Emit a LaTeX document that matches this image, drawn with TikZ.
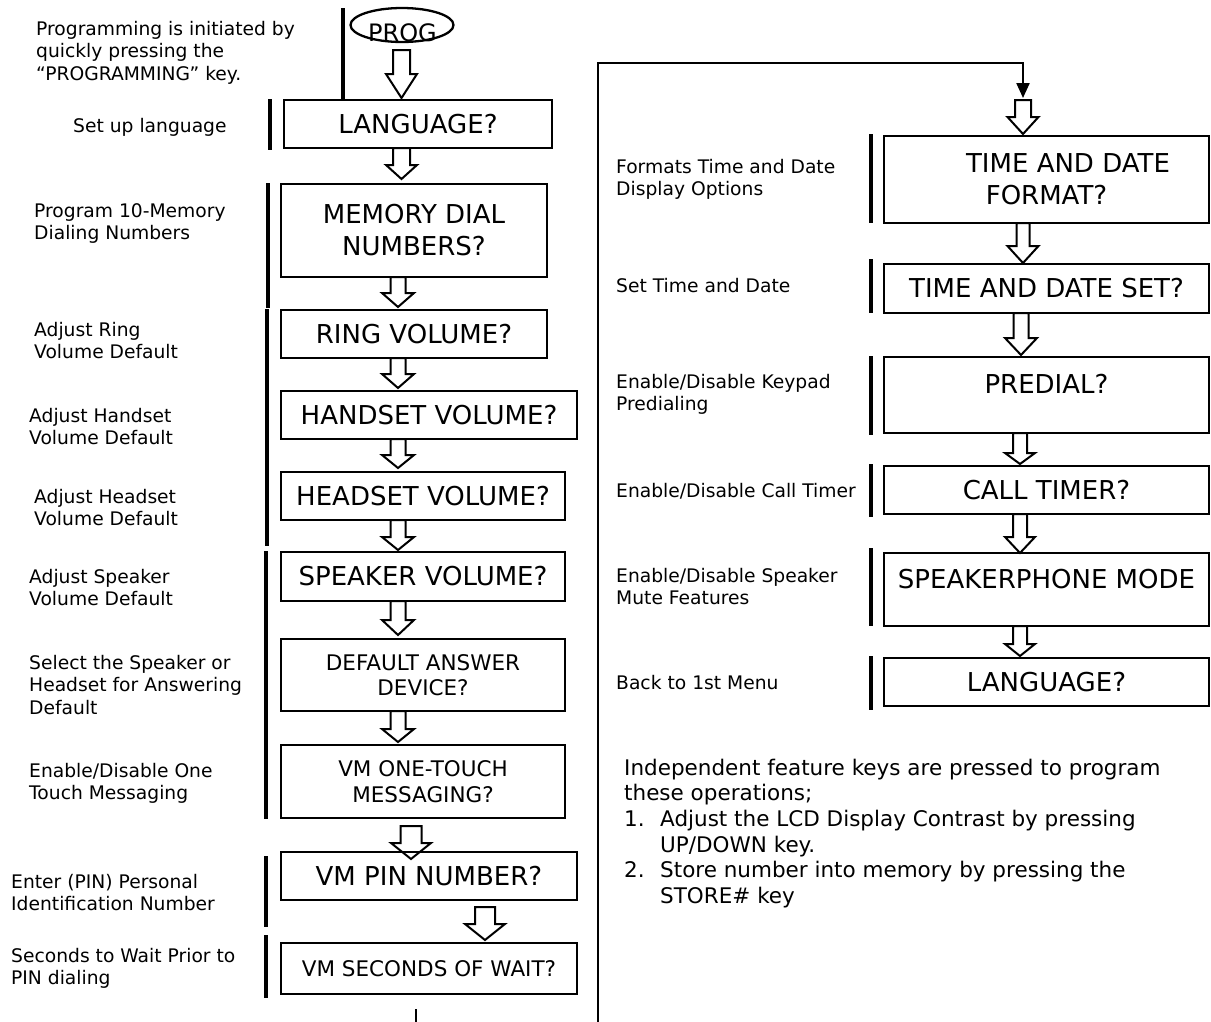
\documentclass[tikz,border=0pt]{standalone}
\usepackage{fontspec}
\setmainfont{DejaVu Sans}
\usetikzlibrary{arrows.meta,shapes.geometric}
\newcommand\smallfnt{\fontsize{18.7}{22.6}\selectfont}
\newcommand\bigfnt{\fontsize{26}{32}\selectfont}
\newcommand\midfnt{\fontsize{21.5}{25.6}\selectfont}
\newcommand\progfnt{\fontsize{24}{28}\selectfont}
\newcommand\sst{\rule{0pt}{15pt}}
\newcommand\mst{\rule{0pt}{17pt}}
% hollow block arrow: x, ytop, yhead, ytip, shaft half width, head half width
\newcommand\harrow[6]{%
  \draw[hollow] (#1-#5,#2) -- (#1-#5,#3) -- (#1-#6,#3) -- (#1,#4) -- (#1+#6,#3) -- (#1+#5,#3) -- (#1+#5,#2) -- cycle;}
\begin{document}
\begin{tikzpicture}[x=1pt,y=-1pt,
  box/.style={draw, line width=2.6pt, inner sep=0pt, align=center, font=\bigfnt},
  midbox/.style={box, font=\midfnt},
  lbl/.style={anchor=north west, inner sep=0pt, align=left, font=\smallfnt},
  bar/.style={line width=3.2pt},
  hollow/.style={draw, fill=white, line width=2pt, line join=miter},
  conn/.style={line width=2.3pt, -{Triangle[length=15pt,width=13pt]}}]
\useasboundingbox (0,0) rectangle (1211,1021);

% ---------- hollow arrows (drawn first) ----------
\harrow{401.5}{50}{74}{98}{8.5}{15.5}
\harrow{401.5}{148}{165}{179}{8.5}{15.5}
\harrow{398}{277}{293}{307}{7.5}{16}
\harrow{398}{358}{374}{388}{7.5}{16}
\harrow{398}{439}{455}{468}{7.5}{16}
\harrow{398}{520}{537}{550}{7.5}{16}
\harrow{398}{601}{620}{635}{7.5}{16}
\harrow{398}{711}{729}{742}{7.5}{16}
\harrow{411}{826}{843}{859}{10.5}{20}
\harrow{485}{907}{924}{940}{10}{20}
\harrow{1023}{100}{117}{134}{8}{15.5}
\harrow{1023}{223}{246}{263}{6.5}{15.5}
\harrow{1021}{313}{338}{355}{7.5}{16}
\harrow{1020}{433}{453}{464}{7}{15}
\harrow{1020}{514}{537}{553}{7}{15}
\harrow{1020}{626}{644}{656}{7}{15}

% ---------- start ----------
\node[draw, ellipse, line width=2.3pt, minimum width=103pt, minimum height=34pt, inner sep=0pt] (prog) at (402,25) {};
\node[anchor=base, inner sep=0pt, font=\progfnt] (progtxt) at (402.5,41) {PROG};

% ---------- left column boxes ----------
\node[box, minimum width=268pt, minimum height=48pt] (lang1) at (418,124) {LANGUAGE?};
\node[box, minimum width=266pt, minimum height=93pt] (mem) at (414,230.5) {MEMORY DIAL\\NUMBERS?};
\node[box, minimum width=266pt, minimum height=48pt] (ring) at (414,334) {RING VOLUME?};
\node[box, minimum width=296pt, minimum height=48pt] (hand) at (429,415) {HANDSET VOLUME?};
\node[box, minimum width=284pt, minimum height=48pt] (head) at (423,496) {HEADSET VOLUME?};
\node[box, minimum width=284pt, minimum height=49pt] (spk) at (423,576.5) {SPEAKER VOLUME?};
\node[midbox, minimum width=284pt, minimum height=72pt] (def) at (423,675) {DEFAULT ANSWER\\DEVICE?};
\node[midbox, minimum width=284pt, minimum height=73pt] (one) at (423,781.5) {VM ONE-TOUCH\\MESSAGING?};
\node[box, minimum width=296pt, minimum height=48pt] (pin) at (429,876) {VM PIN NUMBER?};
\node[midbox, minimum width=296pt, minimum height=51pt] (sec) at (429,968.5) {VM SECONDS OF WAIT?};

% ---------- right column boxes ----------
\node[box, minimum width=325pt, minimum height=87pt] (tdf) at (1046.5,179.5) {\hspace*{43pt}TIME AND DATE\\FORMAT?};
\node[box, minimum width=325pt, minimum height=49pt] (tds) at (1046.5,288.5) {TIME AND DATE SET?};
\node[box, minimum width=325pt, minimum height=76pt, text height=19pt, text depth=23pt] (pre) at (1046.5,395) {PREDIAL?};
\node[box, minimum width=325pt, minimum height=48pt] (call) at (1046.5,490) {CALL TIMER?};
\node[box, minimum width=325pt, minimum height=73pt, text height=19pt, text depth=22pt] (spph) at (1046.5,589.5) {SPEAKERPHONE MODE};
\node[box, minimum width=325pt, minimum height=48pt] (lang2) at (1046.5,682) {LANGUAGE?};

% ---------- return connector ----------
\coordinate (cbot) at (598,1022);
\coordinate (ctl) at (598,63);
\coordinate (ctr) at (1023,63);
\coordinate (ctip) at (1023,98);
\draw[conn] (cbot) -- (ctl) -- (ctr) -- (ctip);

% ---------- bars ----------
\draw[bar] (343,8) -- (343,99);
\draw[bar] (270,99) -- (270,150);
\draw[bar] (268,183) -- (268,308);
\draw[bar] (267,309) -- (267,546);
\draw[bar] (266,551) -- (266,819);
\draw[bar] (266,856) -- (266,927);
\draw[bar] (266,935) -- (266,998);
\draw[bar] (871,134) -- (871,223);
\draw[bar] (871,259) -- (871,313);
\draw[bar] (871,356) -- (871,435);
\draw[bar] (871,464) -- (871,517);
\draw[bar] (871,548) -- (871,626);
\draw[bar] (871,656) -- (871,710);
\draw[line width=2.5pt] (416,1009) -- (416,1022);

% ---------- left labels ----------
\node[lbl] (lprog) at (36,35-15) {\sst Programming is initiated by\\quickly pressing the\\“PROGRAMMING” key.};
\node[lbl] (lset) at (73,132-15) {\sst Set up language};
\node[lbl] (lmem) at (34,217-15) {\sst Program 10-Memory\\Dialing Numbers};
\node[lbl] (lring) at (34,336-15) {\sst Adjust Ring\\Volume Default};
\node[lbl] (lhand) at (29,422-15) {\sst Adjust Handset\\Volume Default};
\node[lbl] (lhead) at (34,503-15) {\sst Adjust Headset\\Volume Default};
\node[lbl] (lspk) at (29,583-15) {\sst Adjust Speaker\\Volume Default};
\node[lbl] (ldef) at (29,669-15) {\sst Select the Speaker or\\Headset for Answering\\Default};
\node[lbl] (lone) at (29,777-15) {\sst Enable/Disable One\\Touch Messaging};
\node[lbl] (lpin) at (11,888-15) {\sst Enter (PIN) Personal\\Identification Number};
\node[lbl] (lsec) at (11,962-15) {\sst Seconds to Wait Prior to\\PIN dialing};

% ---------- right labels ----------
\node[lbl] (ltdf) at (616,173-15) {\sst Formats Time and Date\\Display Options};
\node[lbl] (ltds) at (616,292-15) {\sst Set Time and Date};
\node[lbl] (lpre) at (616,388-15) {\sst Enable/Disable Keypad\\Predialing};
\node[lbl] (lcall) at (616,497-15) {\sst Enable/Disable Call Timer};
\node[lbl] (lspph) at (616,582-15) {\sst Enable/Disable Speaker\\Mute Features};
\node[lbl] (lback) at (616,689-15) {\sst Back to 1st Menu};

% ---------- note ----------
\node[lbl, font=\midfnt] (note) at (624,775-17) {\mst Independent feature keys are pressed to program\\
these operations;\\
\makebox[36pt][l]{1.}Adjust the LCD Display Contrast by pressing\\
\hspace*{36pt}UP/DOWN key.\\
\makebox[36pt][l]{2.}Store number into memory by pressing the\\
\hspace*{36pt}STORE\# key};
\end{tikzpicture}
\end{document}
